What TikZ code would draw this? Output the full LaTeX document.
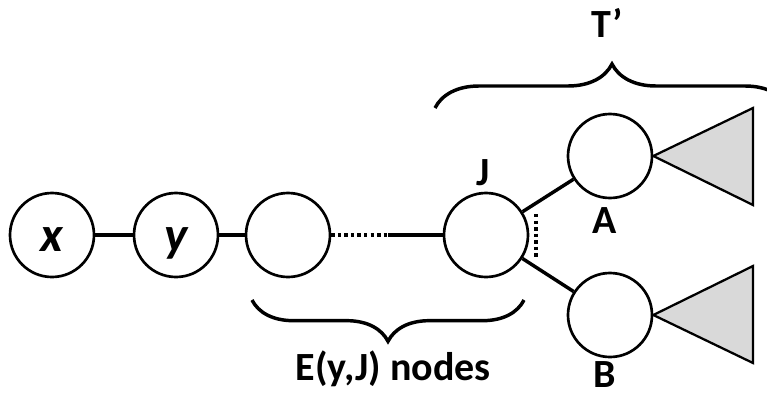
\documentclass[tikz,border=0pt]{standalone}
\usepackage{fontspec}
\setmainfont{Carlito}
\usetikzlibrary{positioning,decorations.pathreplacing}
\definecolor{subtree}{RGB}{217,217,217}

\begin{document}
\begin{tikzpicture}[x=0.75pt, y=-0.75pt,
    vertex/.style={draw, circle, line width=2pt, minimum size=63pt, inner sep=0pt,
                   text height=25pt, text depth=0pt,
                   font=\fontsize{37}{40}\selectfont\bfseries\itshape},
    edge/.style={line width=2.6pt},
    dots/.style={line width=2.8pt, dash pattern=on 2.6pt off 2.3pt},
    lbl/.style={anchor=base, inner sep=0pt, font=\fontsize{30}{34}\selectfont\bfseries},
    brc/.style={decorate, decoration={brace, amplitude=#1}, line width=2.6pt},
    tri/.style={draw, fill=subtree, line width=1.7pt, line join=miter}
]
    \clip (0,0) rectangle (767,396);

    % Path from x towards J
    \node[vertex] (x) at (52,235) {x};
    \node[vertex] (y) at (176,235) {y};
    \node[vertex] (mid) at (288,235) {};
    \node[vertex] (J) at (486,235) {};
    \coordinate (gap) at (388,235);

    % Children of J
    \node[vertex] (A) at (610,156) {};
    \node[vertex] (B) at (610,315) {};

    \draw[edge] (x) -- (y);
    \draw[edge] (y) -- (mid);
    \draw[dots] (mid) -- (gap);
    \draw[edge] (gap) -- (J);
    \draw[edge] (J) -- (A);
    \draw[edge] (J) -- (B);
    \draw[dots, line width=2.4pt] (536,214) -- (536,259);

    % Subtrees
    \draw[tri] (A.east) -- (753,108) -- (753,205) -- cycle;
    \draw[tri] (B.east) -- (753,266) -- (753,363) -- cycle;

    % Labels
    \node[lbl] (lJ) at (483,185) {J};
    \node[lbl] (lA) at (605,233) {A};
    \node[lbl] (lB) at (605,387) {B};

    % Braces
    \coordinate (tl) at (435,108);
    \coordinate (tr) at (789,108);
    \draw[brc=33pt] (tl) -- (tr);
    \node[lbl] (tp) at (607,37) {T’};

    \coordinate (bl) at (252,300);
    \coordinate (br) at (524,300);
    \draw[brc=31pt] (br) -- (bl);
    \node[lbl] (eyj) at (393,380) {E(y,J) nodes};
\end{tikzpicture}
\end{document}
